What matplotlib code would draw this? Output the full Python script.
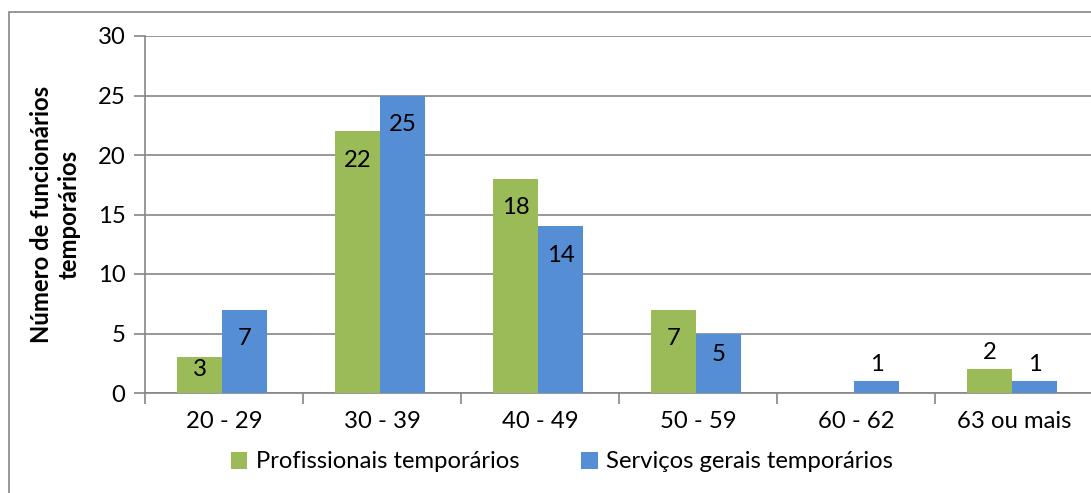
import matplotlib.pyplot as plt
from matplotlib.patches import Rectangle
import numpy as np

categories = ['20 - 29', '30 - 39', '40 - 49', '50 - 59', '60 - 62', '63 ou mais']
profissionais = [3, 22, 18, 7, 0, 2]
servicos = [7, 25, 14, 5, 1, 1]
series_names = ['Profissionais temporários', 'Serviços gerais temporários']
y_label = 'Número de funcionários\ntemporários'

plt.rcParams['font.family'] = ['Lato', 'DejaVu Sans']
green = '#9BBB59'
blue = '#558ED5'
grey = '#868686'
fs = 17.2

fig = plt.figure(figsize=(10.91, 4.93), dpi=100)
W, H = 1091, 493
ax = fig.add_axes([145 / W, 100 / H, (1093 - 145) / W, (393 - 36) / H])

# chart area border (cropped on the right and bottom in the reference)
fig.patches.append(Rectangle((9 / W, -0.1), 1.2, (493 - 12) / H + 0.1,
                             transform=fig.transFigure, fill=False,
                             edgecolor=grey, linewidth=1.2))

x = np.arange(len(categories))
bw = 0.285
b1 = ax.bar(x - bw / 2 - 0.01, profissionais, bw, color=green, label=series_names[0], zorder=3)
b2 = ax.bar(x + bw / 2 - 0.01, servicos, bw, color=blue, label=series_names[1], zorder=3)

ax.set_xlim(-0.5, len(categories) - 0.5)
ax.set_ylim(0, 30)
ax.set_yticks(range(0, 31, 5))
ax.set_xticks(np.arange(len(categories) + 1) - 0.5, minor=False)
ax.set_xticklabels([])
ax.set_xticks(x, minor=True)
ax.set_xticklabels(categories, minor=True)
ax.tick_params(axis='x', which='minor', length=0, labelsize=fs, pad=13)
ax.tick_params(axis='x', which='major', length=8, color=grey, width=1.2)
ax.tick_params(axis='y', length=8, color=grey, width=1.2, labelsize=fs, pad=6)
ax.grid(axis='y', color=grey, linewidth=1.2, zorder=0)
for s in ['top', 'right']:
    ax.spines[s].set_visible(False)
for s in ['left', 'bottom']:
    ax.spines[s].set_color(grey)
    ax.spines[s].set_linewidth(1.2)

ax.set_ylabel(y_label, fontsize=fs, fontweight='bold', labelpad=12, linespacing=1.25)

px_per_unit = (393 - 36) / 30
for bars, vals in [(b1, profissionais), (b2, servicos)]:
    for rect, v in zip(bars, vals):
        if v == 0:
            continue
        cx = rect.get_x() + rect.get_width() / 2
        hpx = v * px_per_unit
        if v >= 3:
            off = -min(29, hpx * 0.35)
        else:
            off = 17
        ax.annotate(str(v), (cx, v), xytext=(0, off), textcoords='offset pixels',
                    ha='center', va='center', fontsize=fs, zorder=4)

fig.legend(loc='center', bbox_to_anchor=(0.515, (493 - 462) / H), ncol=2,
           frameon=False, fontsize=fs, handlelength=0.7, handleheight=0.7,
           handletextpad=0.35, columnspacing=2.6)

fig.savefig('out.png', dpi=100)
